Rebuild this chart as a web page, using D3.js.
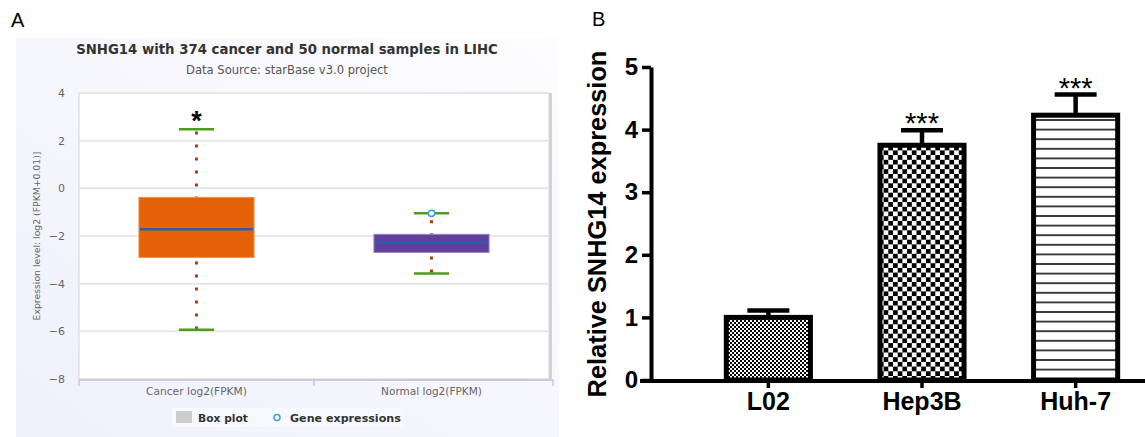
<!DOCTYPE html>
<html>
<head>
<meta charset="utf-8">
<script src="https://cdn.jsdelivr.net/npm/d3@7"></script>
<style>
  body { margin: 0; background: #fff; }
  svg { display: block; }
</style>
</head>
<body>
<div id="figure"></div>
<script>
// panel A: starBase box plot
const boxCategories = ["Cancer log2(FPKM)", "Normal log2(FPKM)"];
const boxLow = [-5.93, -3.57];
const boxQ1 = [-2.9, -2.69];
const boxMedian = [-1.72, -2.27];
const boxQ3 = [-0.38, -1.93];
const boxHigh = [2.48, -1.05];
const geneExpressions = [[1, -1.05]]; // [category index, value]
const boxYTicks = [-8, -6, -4, -2, 0, 2, 4];
const boxSignif = ["*", ""];

// panel B: qPCR bars
const cellLines = ["L02", "Hep3B", "Huh-7"];
const relExpression = [1.0, 3.75, 4.23];
const relError = [0.11, 0.24, 0.33];
const barSignif = ["", "***", "***"];
const barYTicks = [0, 1, 2, 3, 4, 5];

const boxFills = ["#e56207", "#633f9d"];
const boxEdges = ["#ef8f55", "#9a84c2"];
const barPatterns = ["url(#chkFine)", "url(#chkCoarse)", "url(#hLines)"];

const W = 1145, H = 437;
const fontA = "'DejaVu Sans', Verdana, sans-serif";
const fontB = "'Liberation Sans', Arial, sans-serif";

const svg = d3.select("#figure").append("svg")
    .attr("width", W)
    .attr("height", H);

const defs = svg.append("defs");

// shrink/grow a text node's font so it spans the width seen in the figure
function fitText(sel, target) {
    const len = sel.node().getComputedTextLength();
    const fs = parseFloat(sel.style("font-size"));
    sel.style("font-size", (fs * target / len) + "px");
    return sel;
}

/* ---------------- panel A ---------------- */
const bg = defs.append("linearGradient")
    .attr("id", "bgA")
    .attr("x1", "100%").attr("y1", "0%")
    .attr("x2", "0%").attr("y2", "100%");
bg.append("stop").attr("offset", "0%").attr("stop-color", "#fdfdff");
bg.append("stop").attr("offset", "100%").attr("stop-color", "#eff0fb");

svg.append("text")
    .attr("x", 11).attr("y", 27)
    .style("font-family", fontB).style("font-size", "20px")
    .text("A");

svg.append("rect")
    .attr("x", 16).attr("y", 38)
    .attr("width", 543).attr("height", 399)
    .style("fill", "url(#bgA)");

const plotA = {left: 79, right: 549, top: 93, bottom: 379};

const xA = d3.scaleBand()
    .domain(boxCategories)
    .range([plotA.left, plotA.right]);

const yA = d3.scaleLinear()
    .domain([-8, 4])
    .range([plotA.bottom, plotA.top]);

fitText(svg.append("text")
    .attr("x", 287).attr("y", 54)
    .attr("text-anchor", "middle")
    .style("font-family", fontA).style("font-size", "13px")
    .style("font-weight", "bold").style("fill", "#333")
    .text("SNHG14 with 374 cancer and 50 normal samples in LIHC"), 422);

fitText(svg.append("text")
    .attr("x", 287).attr("y", 74)
    .attr("text-anchor", "middle")
    .style("font-family", fontA).style("font-size", "11px")
    .style("fill", "#555")
    .text("Data Source: starBase v3.0 project"), 202);

// plot area
svg.append("rect")
    .attr("x", plotA.left).attr("y", plotA.top)
    .attr("width", plotA.right - plotA.left)
    .attr("height", plotA.bottom - plotA.top)
    .style("fill", "#fff")
    .style("stroke", "#d4d4d4")
    .style("stroke-width", 1);

svg.append("line")
    .attr("x1", plotA.right + 1.5).attr("x2", plotA.right + 1.5)
    .attr("y1", plotA.top).attr("y2", plotA.bottom + 1)
    .style("stroke", "#d2d2d6").style("stroke-width", 3);

// grid + y ticks
svg.append("g")
    .selectAll("line")
    .data(boxYTicks)
    .enter()
    .append("line")
        .attr("x1", plotA.left).attr("x2", plotA.right)
        .attr("y1", d => yA(d)).attr("y2", d => yA(d))
        .style("stroke", "#e6e6e6").style("stroke-width", 2);

svg.append("g")
    .attr("transform", `translate(${plotA.left}, 0)`)
    .call(d3.axisLeft(yA).tickValues(boxYTicks).tickSize(0).tickPadding(14))
    .call(g => g.select(".domain").remove())
    .call(g => g.selectAll("text")
        .style("font-family", fontA).style("font-size", "11px").style("fill", "#666"));

fitText(svg.append("text")
    .attr("text-anchor", "middle")
    .attr("transform", `translate(40, ${(plotA.top + plotA.bottom) / 2}) rotate(-90)`)
    .style("font-family", fontA).style("font-size", "10px").style("fill", "#666")
    .text("Expression level: log2 (FPKM+0.01)]"), 169);

// x axis
svg.append("line")
    .attr("x1", plotA.left).attr("x2", plotA.right + 4)
    .attr("y1", plotA.bottom + 1).attr("y2", plotA.bottom + 1)
    .style("stroke", "#c6cddd").style("stroke-width", 2);

svg.append("g")
    .selectAll("line")
    .data([plotA.left, xA(boxCategories[1]), plotA.right + 4])
    .enter()
    .append("line")
        .attr("x1", d => d).attr("x2", d => d)
        .attr("y1", plotA.bottom + 1).attr("y2", plotA.bottom + 7)
        .style("stroke", "#c6cddd").style("stroke-width", 1.5);

svg.append("g")
    .selectAll("text")
    .data(boxCategories)
    .enter()
    .append("text")
        .attr("x", d => xA(d) + xA.bandwidth() / 2)
        .attr("y", 395)
        .attr("text-anchor", "middle")
        .style("font-family", fontA).style("font-size", "10.5px").style("fill", "#666")
        .text(d => d)
        .each(function() { fitText(d3.select(this), 101); });

// boxes
const boxW = xA.bandwidth() * 0.49,
    whiskerW = xA.bandwidth() * 0.15;

const boxes = svg.append("g")
    .selectAll("g")
    .data(boxCategories.map((c, i) => ({cat: c, i: i})))
    .enter()
    .append("g")
    .attr("transform", d => `translate(${xA(d.cat) + xA.bandwidth() / 2}, 0)`);

// dotted stems
boxes.append("line")
    .attr("x1", 0).attr("x2", 0)
    .attr("y1", d => yA(boxQ3[d.i])).attr("y2", d => yA(boxHigh[d.i]))
    .style("stroke", "#b5390c").style("stroke-width", 3)
    .style("stroke-dasharray", "3 10").style("stroke-dashoffset", 2);
boxes.append("line")
    .attr("x1", 0).attr("x2", 0)
    .attr("y1", d => yA(boxQ1[d.i])).attr("y2", d => yA(boxLow[d.i]))
    .style("stroke", "#b5390c").style("stroke-width", 3)
    .style("stroke-dasharray", "3 10").style("stroke-dashoffset", -4);

boxes.append("rect")
    .attr("x", -boxW / 2).attr("width", boxW)
    .attr("y", d => yA(boxQ3[d.i]))
    .attr("height", d => yA(boxQ1[d.i]) - yA(boxQ3[d.i]))
    .style("fill", d => boxFills[d.i])
    .style("stroke", d => boxEdges[d.i])
    .style("stroke-width", 1);

boxes.append("line")
    .attr("x1", -boxW / 2 + 1).attr("x2", boxW / 2 - 1)
    .attr("y1", d => yA(boxMedian[d.i])).attr("y2", d => yA(boxMedian[d.i]))
    .style("stroke", "#285ead").style("stroke-width", 2.5);

boxes.selectAll(".whisker")
    .data(d => [boxHigh[d.i], boxLow[d.i]])
    .enter()
    .append("line")
        .attr("class", "whisker")
        .attr("x1", -whiskerW / 2).attr("x2", whiskerW / 2)
        .attr("y1", d => yA(d)).attr("y2", d => yA(d))
        .style("stroke", "#4d9c1d").style("stroke-width", 2.5);

boxes.append("text")
    .attr("y", d => yA(boxHigh[d.i]) + 1)
    .attr("text-anchor", "middle")
    .style("font-family", fontB).style("font-size", "27px").style("font-weight", "bold")
    .text(d => boxSignif[d.i]);

svg.append("g")
    .selectAll("circle")
    .data(geneExpressions)
    .enter()
    .append("circle")
        .attr("cx", d => xA(boxCategories[d[0]]) + xA.bandwidth() / 2)
        .attr("cy", d => yA(d[1]))
        .attr("r", 3.2)
        .style("fill", "#fff")
        .style("stroke", "#3a9fd8").style("stroke-width", 1.5);

// legend
const legend = svg.append("g");
legend.append("rect")
    .attr("x", 172).attr("y", 408).attr("width", 232).attr("height", 19)
    .style("fill", "#f6fafe");
legend.append("rect")
    .attr("x", 176).attr("y", 411).attr("width", 16).attr("height", 12)
    .style("fill", "#cccccc");
fitText(legend.append("text")
    .attr("x", 198).attr("y", 422)
    .style("font-family", fontA).style("font-size", "10.5px")
    .style("font-weight", "bold").style("fill", "#333")
    .text("Box plot"), 50);
legend.append("circle")
    .attr("cx", 277).attr("cy", 417.5).attr("r", 3)
    .style("fill", "#fff").style("stroke", "#3a9fd8").style("stroke-width", 1.5);
fitText(legend.append("text")
    .attr("x", 290).attr("y", 422)
    .style("font-family", fontA).style("font-size", "10.5px")
    .style("font-weight", "bold").style("fill", "#333")
    .text("Gene expressions"), 111);

/* ---------------- panel B ---------------- */
const fine = defs.append("pattern")
    .attr("id", "chkFine").attr("patternUnits", "userSpaceOnUse")
    .attr("width", 4).attr("height", 4);
fine.append("rect").attr("width", 4).attr("height", 4).style("fill", "#fff");
fine.append("rect").attr("width", 2).attr("height", 2).style("fill", "#000");
fine.append("rect").attr("x", 2).attr("y", 2).attr("width", 2).attr("height", 2).style("fill", "#000");

const coarse = defs.append("pattern")
    .attr("id", "chkCoarse").attr("patternUnits", "userSpaceOnUse")
    .attr("width", 9.4).attr("height", 9.4);
coarse.append("rect").attr("width", 9.4).attr("height", 9.4).style("fill", "#fff");
coarse.append("rect").attr("width", 4.7).attr("height", 4.7).style("fill", "#000");
coarse.append("rect").attr("x", 4.7).attr("y", 4.7).attr("width", 4.7).attr("height", 4.7).style("fill", "#000");

const hl = defs.append("pattern")
    .attr("id", "hLines").attr("patternUnits", "userSpaceOnUse")
    .attr("width", 10).attr("height", 9.6);
hl.append("rect").attr("width", 10).attr("height", 9.6).style("fill", "#fff");
hl.append("rect").attr("y", 4).attr("width", 10).attr("height", 1.6).style("fill", "#111");

svg.append("text")
    .attr("x", 592).attr("y", 26)
    .style("font-family", fontB).style("font-size", "20px")
    .text("B");

const xB = d3.scaleBand()
    .domain(cellLines)
    .range([647, 1197])
    .paddingInner(0.42)
    .paddingOuter(0.5);

const yB = d3.scaleLinear()
    .domain([0, 5])
    .range([380, 67]);

const axisX = 651;

// bars
svg.append("g")
    .selectAll("rect")
    .data(cellLines)
    .enter()
    .append("rect")
        .attr("x", d => xB(d) + 2.5)
        .attr("width", xB.bandwidth() - 5)
        .attr("y", (d, i) => yB(relExpression[i]))
        .attr("height", (d, i) => yB(0) - yB(relExpression[i]))
        .style("fill", (d, i) => barPatterns[i])
        .style("stroke", "#000")
        .style("stroke-width", 5);

// error bars
const err = svg.append("g")
    .selectAll("g")
    .data(cellLines)
    .enter()
    .append("g")
    .attr("transform", d => `translate(${xB(d) + xB.bandwidth() / 2}, 0)`);

err.append("line")
    .attr("y1", (d, i) => yB(relExpression[i]))
    .attr("y2", (d, i) => yB(relExpression[i] + relError[i]))
    .style("stroke", "#000").style("stroke-width", 4.5);
err.append("line")
    .attr("x1", -21).attr("x2", 21)
    .attr("y1", (d, i) => yB(relExpression[i] + relError[i]))
    .attr("y2", (d, i) => yB(relExpression[i] + relError[i]))
    .style("stroke", "#000").style("stroke-width", 4.5);
err.append("text")
    .attr("text-anchor", "middle")
    .attr("y", (d, i) => yB(relExpression[i] + relError[i]) + 3)
    .style("font-family", fontB).style("font-size", "29px")
    .text((d, i) => barSignif[i]);

// y axis
svg.append("g")
    .attr("transform", `translate(${axisX}, 0)`)
    .call(d3.axisLeft(yB).tickValues(barYTicks).tickFormat(d3.format("d"))
        .tickSize(9).tickSizeOuter(0).tickPadding(4))
    .call(g => g.select(".domain").style("stroke-width", 4))
    .call(g => g.selectAll(".tick line").style("stroke-width", 3.5))
    .call(g => g.selectAll("text")
        .style("font-family", fontB).style("font-size", "24px")
        .style("font-weight", "bold").style("fill", "#000"));

// x axis
svg.append("line")
    .attr("x1", 640).attr("x2", W)
    .attr("y1", 381).attr("y2", 381)
    .style("stroke", "#000").style("stroke-width", 4);

svg.append("g")
    .attr("transform", "translate(0, 381)")
    .call(d3.axisBottom(xB).tickSize(7).tickSizeOuter(0).tickPadding(8))
    .call(g => g.select(".domain").remove())
    .call(g => g.selectAll(".tick line").style("stroke-width", 3.5))
    .call(g => g.selectAll("text")
        .attr("dy", null).attr("y", 29)
        .style("font-family", fontB).style("font-size", "25px")
        .style("font-weight", "bold").style("fill", "#000"));

fitText(svg.append("text")
    .attr("text-anchor", "middle")
    .attr("transform", "translate(606, 224) rotate(-90)")
    .style("font-family", fontB).style("font-size", "25px").style("font-weight", "bold")
    .text("Relative SNHG14 expression"), 347);
</script>
</body>
</html>
